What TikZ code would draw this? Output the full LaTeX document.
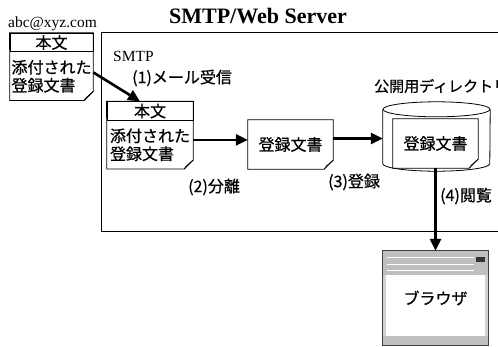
\documentclass[tikz,border=0pt]{standalone}
\usepackage{fontspec}
\setmainfont{Liberation Serif}
\newfontfamily\jp[FakeBold=0.6]{Noto Sans CJK JP}
\usetikzlibrary{positioning,arrows.meta}

\begin{document}
\begin{tikzpicture}[x=1pt,y=-1pt,
    every node/.style={inner sep=0pt},
    jtext/.style={font=\jp\fontsize{16}{18}\selectfont},
    rtext/.style={font=\fontsize{15.5}{18}\selectfont},
    hdr/.style={draw, line width=0.8pt, jtext, minimum width=#1, minimum height=18.5pt},
    docbody/.style={jtext, align=left, minimum width=#1, minimum height=48pt},
    flow/.style={line width=2.6pt, -{Triangle[length=12pt,width=11pt]}}]
    \useasboundingbox (0,0) rectangle (498,346);

    % server frame and titles
    \node [draw, line width=0.8pt, anchor=north west, minimum width=440pt, minimum height=199pt] (server) at (101,32) {};
    \node [font=\bfseries\fontsize{22}{24}\selectfont] (title) at (258,16) {SMTP/Web Server};
    \node [rtext, anchor=base west] (addr) at (8,27) {abc@xyz.com};
    \node [rtext, anchor=west] (smtp) at (113,56) {SMTP};

    % mail
    \node [hdr=83pt] (mailhead) at (51.5,42.5) {本文};
    \node [docbody=83pt, below=0pt of mailhead] (mailbody) {添付された\\登録文書};
    \node [hdr=86pt] (innerhead) at (150,111) {本文};
    \node [docbody=86pt, below=0pt of innerhead] (innerbody) {添付された\\登録文書};

    % documents
    \node [jtext, minimum width=85pt, minimum height=49pt] (reg) at (290.5,144.5) {登録文書};
    \node [minimum width=107pt, minimum height=69pt] (store) at (436.5,136.5) {};
    \draw [line width=0.8pt] ([yshift=-7.5pt]store.north west) -- ([yshift=7.5pt]store.south west)
        arc [start angle=180, end angle=360, x radius=53.5pt, y radius=7.5pt] -- ([yshift=-7.5pt]store.north east);
    \draw [line width=0.8pt] ([yshift=-7.5pt]store.north) ellipse [x radius=53.5pt, y radius=7.5pt];
    \node [jtext, minimum width=85pt, minimum height=49pt] (pub) at (435.5,143.5) {登録文書};
    \node [jtext, font=\jp\fontsize{15}{18}\selectfont, anchor=west] (publabel) at (374,86) {公開用ディレクトリ};

    \foreach \a/\b in {mailhead/mailbody, innerhead/innerbody, reg/reg, pub/pub} {
        \draw [line width=0.8pt] (\a.north west) -- (\a.north east) -- ([yshift=9pt]\b.south east)
            -- ([xshift=-9pt]\b.south east) -- (\b.south west) -- cycle;
        \draw [line width=0.7pt] ([yshift=9pt]\b.south east) -- ([xshift=-7pt,yshift=3pt]\b.south east)
            -- ([xshift=-9pt]\b.south east);
    }

    % browser
    \node [minimum width=105pt, minimum height=94pt] (browser) at (435.5,298) {};
    \fill [gray!50] (browser.north west) rectangle ([yshift=-24pt]browser.north east);
    \fill [gray!50] ([yshift=9pt]browser.south west) rectangle (browser.south east);
    \fill [gray!35] ([yshift=-24pt]browser.north west) rectangle ([xshift=3pt,yshift=9pt]browser.south west);
    \fill [gray!35] ([xshift=-3pt,yshift=-24pt]browser.north east) rectangle ([yshift=9pt]browser.south east);
    \foreach \r in {7,14,20} {
        \draw [white, line width=0.8pt] ([xshift=4pt,yshift=-\r pt]browser.north west) -- ([xshift=-14pt,yshift=-\r pt]browser.north east);
    }
    \fill [black!80] ([xshift=-12pt,yshift=-6pt]browser.north east) rectangle ([xshift=-3pt,yshift=-11pt]browser.north east);
    \draw [black!75, line width=1pt] (browser.north west) rectangle (browser.south east);
    \node [jtext] (browsertext) at (browser.center) {ブラウザ};

    % flows
    \draw [flow] ([yshift=4pt]mailbody.east) -- ([xshift=-10pt]innerhead.north);
    \draw [flow] ([yshift=5pt]innerbody.east) -- ([yshift=5pt]innerbody.east -| reg.west);
    \draw [flow] ([yshift=6pt]reg.east) -- ([yshift=6pt]reg.east -| store.west);
    \draw [flow] (pub.south) -- (browser.north);

    \node [jtext, anchor=west] (recv) at (132,78) {(1)メール受信};
    \node [jtext, anchor=west] (split) at (188,187) {(2)分離};
    \node [jtext, anchor=west] (enter) at (328,182) {(3)登録};
    \node [jtext, anchor=west] (view) at (440,196) {(4)閲覧};
\end{tikzpicture}
\end{document}
